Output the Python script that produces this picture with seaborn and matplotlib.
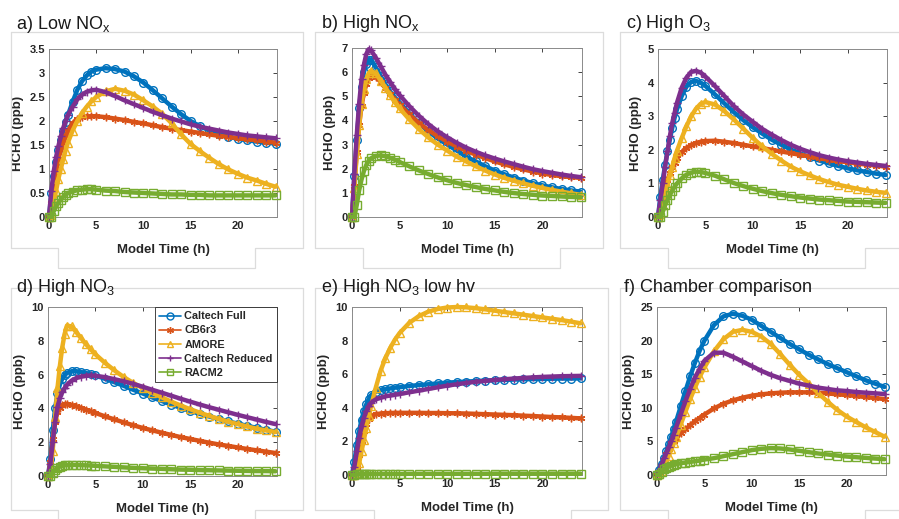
import matplotlib
matplotlib.use("Agg")
import matplotlib.pyplot as plt
import seaborn as sns
import pandas as pd
from matplotlib.lines import Line2D
from matplotlib.ticker import FuncFormatter

# ---------------- data ----------------
time_h = [0, 0.25, 0.5, 0.75, 1, 1.25, 1.5, 1.75, 2, 2.5, 3, 3.5, 4, 4.5, 5,
          6, 7, 8, 9, 10, 11, 12, 13, 14, 15, 16, 17, 18, 19, 20, 21, 22, 23, 24]

models = ["Caltech Full", "CB6r3", "AMORE", "Caltech Reduced", "RACM2"]

# a) Low NOx
lownox_full = [0, 0.5, 0.85, 1.15, 1.4, 1.6, 1.8, 1.97, 2.12, 2.4, 2.65, 2.83, 2.95, 3.03, 3.07, 3.1, 3.08, 3.03, 2.93, 2.8, 2.64, 2.47, 2.3, 2.14, 2.0, 1.89, 1.8, 1.73, 1.67, 1.63, 1.6, 1.57, 1.55, 1.53]
lownox_cb6 = [0, 0.3, 0.65, 0.95, 1.2, 1.4, 1.55, 1.69, 1.8, 1.95, 2.04, 2.08, 2.1, 2.1, 2.1, 2.08, 2.05, 2.02, 1.98, 1.95, 1.91, 1.87, 1.84, 1.81, 1.78, 1.75, 1.72, 1.69, 1.67, 1.64, 1.62, 1.6, 1.57, 1.55]
lownox_amore = [0, 0.05, 0.3, 0.55, 0.8, 1.0, 1.2, 1.38, 1.55, 1.8, 2.0, 2.17, 2.3, 2.41, 2.5, 2.62, 2.67, 2.63, 2.55, 2.43, 2.3, 2.15, 1.95, 1.72, 1.52, 1.37, 1.23, 1.1, 0.99, 0.9, 0.82, 0.76, 0.69, 0.63]
lownox_reduced = [0, 0.55, 0.95, 1.25, 1.48, 1.68, 1.85, 2.0, 2.12, 2.3, 2.45, 2.55, 2.61, 2.64, 2.65, 2.6, 2.52, 2.43, 2.35, 2.27, 2.19, 2.12, 2.05, 1.99, 1.93, 1.88, 1.84, 1.8, 1.76, 1.73, 1.7, 1.68, 1.66, 1.64]
lownox_racm2 = [0, 0.0, 0.12, 0.22, 0.3, 0.36, 0.42, 0.46, 0.5, 0.53, 0.56, 0.57, 0.58, 0.58, 0.57, 0.55, 0.54, 0.52, 0.51, 0.5, 0.49, 0.48, 0.47, 0.47, 0.46, 0.46, 0.45, 0.45, 0.45, 0.45, 0.45, 0.45, 0.45, 0.45]

# b) High NOx
highnox_full = [0, 1.7, 3.2, 4.5, 5.4, 6.0, 6.35, 6.52, 6.5, 6.2, 5.85, 5.5, 5.2, 4.95, 4.75, 4.3, 3.9, 3.55, 3.25, 3.0, 2.75, 2.5, 2.3, 2.1, 1.92, 1.77, 1.63, 1.51, 1.4, 1.31, 1.23, 1.16, 1.1, 1.05]
highnox_cb6 = [0, 1.3, 2.7, 3.8, 4.6, 5.15, 5.5, 5.75, 5.85, 5.8, 5.6, 5.35, 5.1, 4.85, 4.65, 4.25, 3.9, 3.6, 3.35, 3.12, 2.92, 2.74, 2.58, 2.44, 2.3, 2.18, 2.07, 1.97, 1.88, 1.8, 1.74, 1.69, 1.65, 1.62]
highnox_amore = [0, 1.2, 2.6, 3.8, 4.7, 5.3, 5.7, 5.95, 6.05, 5.95, 5.65, 5.35, 5.05, 4.75, 4.5, 4.05, 3.65, 3.3, 3.0, 2.75, 2.5, 2.3, 2.1, 1.92, 1.76, 1.62, 1.5, 1.39, 1.29, 1.2, 1.12, 1.05, 0.98, 0.92]
highnox_reduced = [0, 1.8, 3.4, 4.7, 5.7, 6.3, 6.75, 6.95, 6.9, 6.6, 6.25, 5.9, 5.6, 5.3, 5.05, 4.6, 4.2, 3.85, 3.55, 3.3, 3.07, 2.87, 2.7, 2.55, 2.42, 2.3, 2.19, 2.08, 1.98, 1.9, 1.83, 1.76, 1.7, 1.65]
highnox_racm2 = [0, 0.0, 0.5, 1.1, 1.55, 1.9, 2.15, 2.32, 2.43, 2.53, 2.55, 2.52, 2.45, 2.37, 2.28, 2.1, 1.93, 1.78, 1.64, 1.52, 1.41, 1.32, 1.24, 1.16, 1.1, 1.04, 0.99, 0.95, 0.92, 0.89, 0.87, 0.85, 0.83, 0.82]

# c) High O3
higho3_full = [0, 0.6, 1.1, 1.55, 1.95, 2.3, 2.65, 2.95, 3.2, 3.6, 3.88, 4.02, 4.05, 4.0, 3.9, 3.65, 3.38, 3.12, 2.88, 2.67, 2.48, 2.3, 2.15, 2.01, 1.89, 1.78, 1.68, 1.6, 1.52, 1.45, 1.39, 1.34, 1.29, 1.25]
higho3_cb6 = [0, 0.25, 0.55, 0.85, 1.1, 1.3, 1.48, 1.62, 1.75, 1.93, 2.05, 2.14, 2.2, 2.24, 2.26, 2.27, 2.24, 2.2, 2.15, 2.1, 2.05, 2.0, 1.95, 1.9, 1.85, 1.8, 1.75, 1.7, 1.66, 1.63, 1.59, 1.56, 1.53, 1.5]
higho3_amore = [0, 0.1, 0.35, 0.65, 0.95, 1.25, 1.5, 1.75, 1.97, 2.35, 2.7, 3.0, 3.22, 3.37, 3.42, 3.35, 3.15, 2.9, 2.63, 2.35, 2.1, 1.88, 1.68, 1.5, 1.36, 1.24, 1.13, 1.04, 0.96, 0.9, 0.84, 0.79, 0.75, 0.72]
higho3_reduced = [0, 0.5, 1.0, 1.5, 1.95, 2.4, 2.8, 3.1, 3.4, 3.85, 4.15, 4.32, 4.35, 4.3, 4.18, 3.9, 3.6, 3.3, 3.05, 2.83, 2.62, 2.45, 2.29, 2.15, 2.03, 1.93, 1.84, 1.77, 1.71, 1.66, 1.62, 1.58, 1.55, 1.52]
higho3_racm2 = [0, 0.0, 0.15, 0.35, 0.5, 0.65, 0.78, 0.9, 1.0, 1.15, 1.26, 1.32, 1.35, 1.34, 1.31, 1.23, 1.12, 1.01, 0.92, 0.84, 0.77, 0.71, 0.66, 0.62, 0.58, 0.55, 0.52, 0.5, 0.48, 0.46, 0.45, 0.44, 0.43, 0.42]

# d) High NO3
highno3_full = [0, 1.0, 2.7, 4.0, 4.9, 5.4, 5.75, 5.95, 6.1, 6.2, 6.2, 6.15, 6.1, 6.02, 5.95, 5.75, 5.55, 5.33, 5.1, 4.88, 4.65, 4.44, 4.23, 4.03, 3.85, 3.68, 3.52, 3.37, 3.23, 3.1, 2.97, 2.85, 2.73, 2.62]
highno3_cb6 = [0, 0.8, 2.2, 3.2, 3.8, 4.05, 4.2, 4.25, 4.25, 4.2, 4.12, 4.03, 3.93, 3.83, 3.73, 3.53, 3.35, 3.17, 3.0, 2.84, 2.7, 2.56, 2.43, 2.3, 2.19, 2.08, 1.97, 1.87, 1.78, 1.69, 1.6, 1.52, 1.44, 1.36]
highno3_amore = [0, 0.3, 1.5, 3.5, 5.2, 6.5, 7.6, 8.4, 8.9, 8.85, 8.5, 8.15, 7.8, 7.5, 7.2, 6.7, 6.25, 5.85, 5.5, 5.2, 4.92, 4.65, 4.4, 4.17, 3.95, 3.75, 3.56, 3.38, 3.22, 3.07, 2.93, 2.8, 2.7, 2.6]
highno3_reduced = [0, 0.7, 2.0, 3.2, 4.1, 4.6, 4.95, 5.2, 5.4, 5.65, 5.8, 5.88, 5.93, 5.95, 5.93, 5.85, 5.73, 5.6, 5.45, 5.28, 5.1, 4.93, 4.75, 4.57, 4.4, 4.23, 4.07, 3.92, 3.77, 3.62, 3.48, 3.34, 3.2, 3.07]
highno3_racm2 = [0, 0.0, 0.2, 0.38, 0.5, 0.56, 0.6, 0.63, 0.64, 0.65, 0.65, 0.64, 0.63, 0.62, 0.6, 0.57, 0.54, 0.51, 0.48, 0.46, 0.44, 0.42, 0.4, 0.38, 0.37, 0.35, 0.34, 0.33, 0.32, 0.31, 0.3, 0.29, 0.29, 0.28]

# e) High NO3 low hv
lowhv_full = [0, 0.8, 1.8, 2.6, 3.3, 3.8, 4.2, 4.5, 4.75, 4.95, 5.05, 5.1, 5.15, 5.2, 5.22, 5.3, 5.35, 5.4, 5.45, 5.5, 5.53, 5.56, 5.59, 5.62, 5.64, 5.66, 5.68, 5.7, 5.71, 5.72, 5.73, 5.74, 5.74, 5.75]
lowhv_cb6 = [0, 0.1, 0.5, 1.2, 2.0, 2.6, 3.05, 3.35, 3.5, 3.62, 3.66, 3.68, 3.69, 3.7, 3.7, 3.7, 3.7, 3.69, 3.69, 3.68, 3.67, 3.66, 3.64, 3.62, 3.6, 3.58, 3.56, 3.53, 3.51, 3.48, 3.45, 3.43, 3.4, 3.37]
lowhv_amore = [0, 0.0, 0.1, 0.7, 1.4, 2.1, 2.8, 3.5, 4.1, 5.2, 6.2, 6.95, 7.55, 8.05, 8.45, 9.05, 9.45, 9.72, 9.88, 9.97, 10.0, 9.98, 9.93, 9.86, 9.78, 9.7, 9.62, 9.54, 9.46, 9.38, 9.3, 9.22, 9.13, 9.03]
lowhv_reduced = [0, 0.5, 1.4, 2.2, 2.9, 3.4, 3.8, 4.1, 4.3, 4.5, 4.6, 4.68, 4.73, 4.78, 4.82, 4.92, 5.02, 5.12, 5.22, 5.32, 5.4, 5.48, 5.55, 5.6, 5.66, 5.7, 5.74, 5.78, 5.81, 5.84, 5.86, 5.88, 5.89, 5.9]
lowhv_racm2 = [0, 0.0, 0.03, 0.04, 0.05, 0.05, 0.05, 0.06, 0.06, 0.06, 0.06, 0.06, 0.06, 0.06, 0.06, 0.07, 0.07, 0.07, 0.07, 0.07, 0.07, 0.07, 0.07, 0.07, 0.08, 0.08, 0.08, 0.08, 0.08, 0.08, 0.08, 0.08, 0.08, 0.08]

# f) Chamber comparison
chamber_full = [0, 0.8, 1.7, 2.6, 3.6, 4.6, 5.7, 6.8, 7.9, 10.2, 12.5, 14.7, 16.7, 18.5, 20.0, 22.3, 23.6, 24.0, 23.7, 23.1, 22.2, 21.3, 20.4, 19.5, 18.7, 17.9, 17.2, 16.5, 15.9, 15.3, 14.7, 14.1, 13.6, 13.1]
chamber_cb6 = [0, 0.5, 1.3, 2.2, 3.1, 3.9, 4.6, 5.1, 5.5, 6.2, 6.8, 7.4, 8.0, 8.5, 9.0, 9.9, 10.6, 11.1, 11.5, 11.8, 12.0, 12.15, 12.25, 12.3, 12.3, 12.3, 12.25, 12.15, 12.0, 11.9, 11.75, 11.6, 11.45, 11.3]
chamber_amore = [0, 0.2, 0.6, 1.2, 2.0, 2.9, 3.8, 4.7, 5.6, 7.5, 9.4, 11.3, 13.0, 14.6, 16.0, 18.4, 20.2, 21.3, 21.6, 21.3, 20.6, 19.5, 18.0, 16.4, 14.9, 13.6, 12.2, 10.9, 9.7, 8.7, 7.9, 7.1, 6.4, 5.7]
chamber_reduced = [0, 0.8, 1.6, 2.5, 3.3, 4.1, 5.0, 6.0, 7.0, 9.0, 11.0, 12.8, 14.5, 15.8, 17.0, 18.2, 18.2, 17.6, 16.9, 16.2, 15.5, 14.9, 14.4, 14.0, 13.6, 13.3, 13.0, 12.8, 12.6, 12.5, 12.35, 12.25, 12.15, 12.05]
chamber_racm2 = [0, 0.1, 0.5, 0.9, 1.1, 1.25, 1.4, 1.5, 1.6, 1.75, 1.85, 1.95, 2.05, 2.15, 2.3, 2.5, 2.8, 3.1, 3.4, 3.7, 3.9, 4.0, 3.95, 3.8, 3.6, 3.4, 3.2, 3.05, 2.9, 2.75, 2.65, 2.55, 2.45, 2.35]

panel_titles = ["a) Low NO$_{x}$", "b) High NO$_{x}$", "c) High O$_{3}$",
                "d) High NO$_{3}$", "e) High NO$_{3}$ low hv", "f) Chamber comparison"]
panel_series = [
    [lownox_full, lownox_cb6, lownox_amore, lownox_reduced, lownox_racm2],
    [highnox_full, highnox_cb6, highnox_amore, highnox_reduced, highnox_racm2],
    [higho3_full, higho3_cb6, higho3_amore, higho3_reduced, higho3_racm2],
    [highno3_full, highno3_cb6, highno3_amore, highno3_reduced, highno3_racm2],
    [lowhv_full, lowhv_cb6, lowhv_amore, lowhv_reduced, lowhv_racm2],
    [chamber_full, chamber_cb6, chamber_amore, chamber_reduced, chamber_racm2],
]
y_limits = [(0, 3.5), (0, 7), (0, 5), (0, 10), (0, 10), (0, 25)]
y_steps = [0.5, 1, 1, 2, 2, 5]
x_ticks = [0, 5, 10, 15, 20]

# ---------------- styling ----------------
sns.set_style("white")
plt.rcParams["font.family"] = ["Liberation Sans", "DejaVu Sans"]
plt.rcParams["mathtext.default"] = "regular"

colors = ["#0072BD", "#D95319", "#EDB120", "#7E2F8E", "#77AC30"]
markers = ["o", (6, 2, 0), "^", "+", "s"]
open_marker = [True, False, True, False, True]

W, H = 899, 519
fig = plt.figure(figsize=(W / 100, H / 100), dpi=100)
fig.patch.set_facecolor("white")

# axes boxes in pixels: (left, top, right, bottom)
ax_px = [(49, 49, 277, 217), (352, 48, 582, 217), (658, 49, 887, 217),
         (48, 307, 277, 476), (352, 307, 582, 475), (657, 307, 886, 475)]
title_px = [(16, 29), (321, 28), (626, 28), (16, 292), (321, 292), (624, 292)]


def px_line(xs, ys):
    fig.add_artist(Line2D([x / W for x in xs], [1 - y / H for y in ys],
                          color="#dcdcdc", lw=0.9, transform=fig.transFigure))


# light panel frames (copied figure borders in the reference)
frames_top = [(11, 303, 58, 255), (315, 603, 363, 560), (620, 905, 668, 865)]
for L, R, g1, g2 in frames_top:
    px_line([L, R], [32, 32])
    px_line([L, L], [32, 248])
    px_line([R, R], [32, 248])
    px_line([L, g1, g1, g2, g2, R], [248, 248, 268, 268, 248, 248])
frames_bot = [(11, 303, 58, 255), (315, 608, 374, 571), (620, 905, 668, 865)]
for L, R, g1, g2 in frames_bot:
    px_line([L, R], [288, 288])
    px_line([L, L], [288, 510])
    px_line([R, R], [288, 510])
    px_line([L, g1, g1], [510, 510, 530])
    px_line([g2, g2, R], [530, 510, 510])

fmt = FuncFormatter(lambda v, p: f"{v:g}")

for i in range(6):
    L, T, R, B = ax_px[i]
    ax = fig.add_axes([L / W, 1 - B / H, (R - L) / W, (B - T) / H])
    ax.set_facecolor("white")
    for j, vals in enumerate(panel_series[i]):
        c = colors[j]
        sns.lineplot(x=time_h, y=vals, ax=ax, color=c, marker=markers[j],
                     markersize=5.5, markeredgewidth=1.0, markeredgecolor=c,
                     markerfacecolor="none" if open_marker[j] else c,
                     linewidth=3.2, estimator=None, sort=False,
                     legend=False, clip_on=False, zorder=3)
    ax.set_xlim(0, 24.15)
    ax.set_ylim(*y_limits[i])
    lo, hi = y_limits[i]
    n = int(round((hi - lo) / y_steps[i]))
    ax.set_yticks([lo + k * y_steps[i] for k in range(n + 1)])
    ax.set_xticks(x_ticks)
    ax.yaxis.set_major_formatter(fmt)
    ax.xaxis.set_major_formatter(fmt)
    ax.tick_params(direction="in", length=3, width=0.6, colors="#262626",
                   labelsize=8, top=True, right=True, pad=3)
    for lab in ax.get_xticklabels() + ax.get_yticklabels():
        lab.set_fontweight("bold")
    for sp in ax.spines.values():
        sp.set_visible(True)
        sp.set_color("#8a8a8a")
        sp.set_linewidth(0.7)
    ax.set_xlabel("Model Time (h)", fontsize=9.5, fontweight="bold",
                  color="#262626", labelpad=9)
    ax.set_ylabel("HCHO (ppb)", fontsize=9.5, fontweight="bold",
                  color="#262626", labelpad=4)
    tx, ty = title_px[i]
    fig.text(tx / W, 1 - ty / H, panel_titles[i], fontsize=13,
             color="#1a1a1a", ha="left", va="baseline")
    if i == 3:
        leg_handles = [Line2D([0], [0], color=colors[k], marker=markers[k],
                              markersize=5, markeredgewidth=1.0,
                              markeredgecolor=colors[k],
                              markerfacecolor="none" if open_marker[k] else colors[k],
                              lw=1.2) for k in range(5)]
        leg = ax.legend(leg_handles, models, loc="upper right", borderaxespad=0,
                        prop={"size": 7.8, "weight": "bold"}, frameon=True,
                        fancybox=False, framealpha=1, edgecolor="#262626",
                        handlelength=2.0, handletextpad=0.3,
                        labelspacing=0.38, borderpad=0.4)
        leg.get_frame().set_linewidth(0.6)
        leg.set_zorder(10)

fig.savefig("out.png", dpi=100, facecolor="white")
